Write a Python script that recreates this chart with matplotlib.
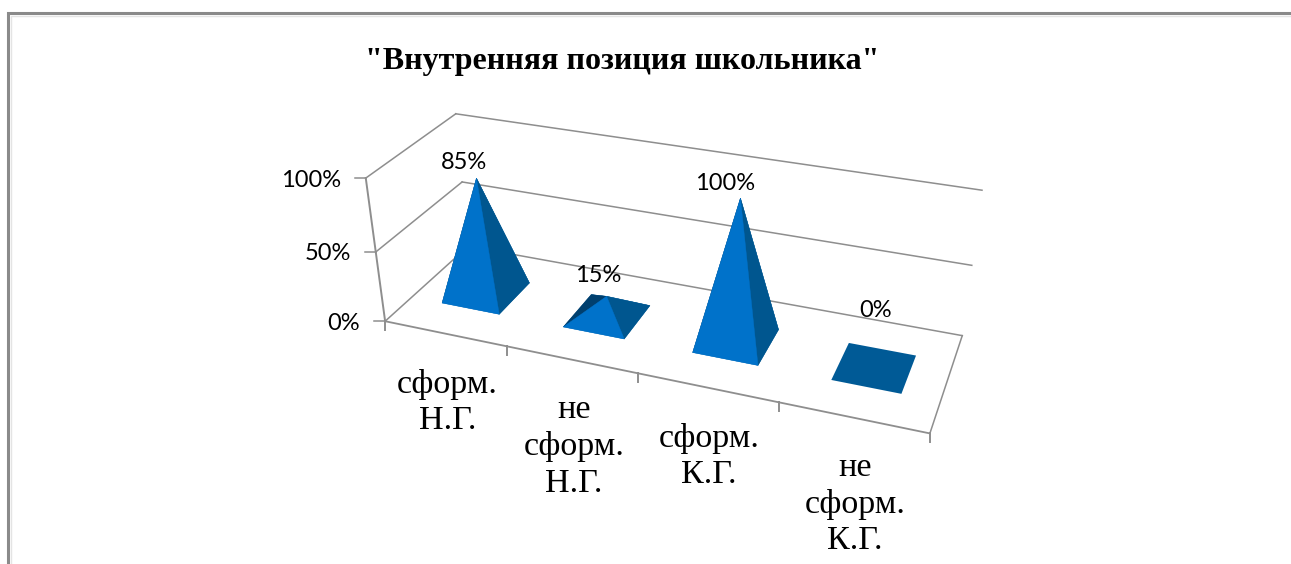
import numpy as np
import matplotlib
matplotlib.use('Agg')
import matplotlib.pyplot as plt
from matplotlib.patches import Polygon

# chart data
title = '"Внутренняя позиция школьника"'
categories = ['сформ.\nН.Г.', 'не\nсформ.\nН.Г.', 'сформ.\nК.Г.', 'не\nсформ.\nК.Г.']
values = [85, 15, 100, 0]
value_labels = ['85%', '15%', '100%', '0%']
yticks = [0, 50, 100]
ytick_labels = ['0%', '50%', '100%']

# where the value labels sit relative to the pyramid tip, in pixels
label_dx = [-12, -8, -15, 1]
label_dy = [-16, -21, -15, -57]

# colours of the pyramid faces
col_front = '#0072CA'
col_right = '#00568F'
col_left = '#003F6E'
col_back = '#005E9E'
col_base = '#005A96'
col_grid = '#8E8E8E'
col_frame = '#8A8A8A'

# camera: world (category, depth 0..1, value 0..100) -> pixels, fitted to the box corners and ticks
world_pts = [(0, 0, 0), (4, 0, 0), (4, 1, 0), (0, 1, 0), (0, 0, 100), (0, 1, 100), (4, 1, 100),
             (0, 0, 50), (0, 1, 50), (4, 1, 50), (1, 0, 0), (2, 0, 0), (3, 0, 0)]
pixel_pts = [(385, 320), (930, 434), (962, 333), (469, 250), (367, 180), (455, 113), (982, 191),
             (375, 250), (462, 180), (972, 266), (507, 346), (638, 374), (779, 403)]

A, b = [], []
for (x, y, z), (px, py) in zip(world_pts, pixel_pts):
    A.append([x, y, z, 1, 0, 0, 0, 0, -px * x, -px * y, -px * z])
    b.append(px)
    A.append([0, 0, 0, 0, x, y, z, 1, -py * x, -py * y, -py * z])
    b.append(py)
cam = np.append(np.linalg.lstsq(np.array(A, float), np.array(b, float), rcond=None)[0], 1).reshape(3, 4)


def project(x, y, z):
    p = cam @ np.array([x, y, z, 1.0])
    return p[0] / p[2], p[1] / p[2]


fig = plt.figure(figsize=(12.91, 5.64), dpi=100)
ax = fig.add_axes([0, 0, 1, 1])
ax.set_xlim(0, 1291)
ax.set_ylim(564, 0)
ax.axis('off')

plt.rcParams['font.family'] = ['Liberation Serif', 'DejaVu Serif']

# outer frame, runs off the picture on the right and at the bottom
ax.plot([8, 8, 1291], [564, 13, 13], color=col_frame, lw=2.2, solid_joinstyle='miter', zorder=1)
ax.plot([10.5, 10.5, 1291], [564, 15.5, 15.5], color='#E4E4E4', lw=1, zorder=1)

ax.text(622.5, 61, title, family='Liberation Serif', weight='bold', fontsize=23, ha='center', va='center', color='black')


def line(p0, p1, lw=1.1):
    ax.plot([p0[0], p1[0]], [p0[1], p1[1]], color=col_grid, lw=lw, zorder=2)


# walls and value axis
n = len(categories)
for tick, lab in zip(yticks, ytick_labels):
    front = project(0, 0, tick)
    back = project(0, 1, tick)
    line(front, back)
    line(back, project(n, 1, tick))
    line((front[0] - 11, front[1]), front)
    ax.text(front[0] - 25, front[1] + 2, lab, family='Lato', fontsize=17, ha='right', va='center', color='black')
line(project(0, 0, 0), project(0, 0, 100), lw=1.4)

# floor and category axis
line(project(0, 0, 0), project(n, 0, 0), lw=1.3)
line(project(n, 0, 0), project(n, 1, 0))
for i in range(n + 1):
    px, py = project(i, 0, 0)
    line((px, py), (px, py + 9), lw=1.4)

half_x = 0.24
depth = (0.30, 0.70)
tip_scale = 0.98  # the tips stop a little short of the gridlines
for i, (val, lab, cat) in enumerate(zip(values, value_labels, categories)):
    c = i + 0.5
    fl = project(c - half_x, depth[0], 0)
    fr = project(c + half_x, depth[0], 0)
    br = project(c + half_x, depth[1], 0)
    bl = project(c - half_x, depth[1], 0)
    apex = project(c, sum(depth) / 2, val * tip_scale)
    ax.add_patch(Polygon([fl, fr, br, bl], closed=True, fc=col_base, ec='none', zorder=3))
    if val > 0:
        for pts, col in [([bl, br, apex], col_back), ([fl, bl, apex], col_left),
                         ([fr, br, apex], col_right), ([fl, fr, apex], col_front)]:
            ax.add_patch(Polygon(pts, closed=True, fc=col, ec=col, lw=0.3, zorder=3))
    ax.text(apex[0] + label_dx[i], apex[1] + label_dy[i], lab, family='Lato', fontsize=17,
            ha='center', va='center', color='black', zorder=4)

    mx, my = project(c, 0, 0)
    ax.text(mx + 2, my + 35, cat, family='Liberation Serif', fontsize=24.5, ha='center', va='top',
            linespacing=1.25, color='black', zorder=4)

fig.savefig('out.png', dpi=100)
